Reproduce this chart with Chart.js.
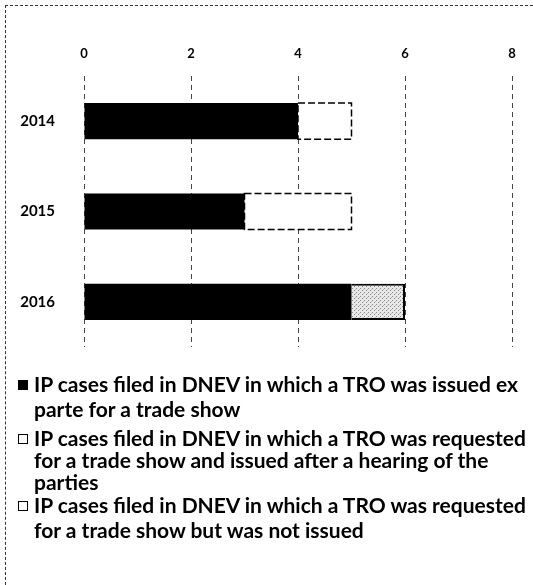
<!DOCTYPE html>
<html>
<head>
<meta charset="utf-8">
<script src="https://cdn.jsdelivr.net/npm/chart.js@4/dist/chart.umd.min.js"></script>
<style>
  body { margin: 0; background: #fff; }
  #wrap { position: relative; width: 533px; height: 585px; box-sizing: border-box; border-top: 1px dashed #333; border-left: 1px dashed #333; margin: 5px 0 0 5px; }
  #chartBox { position: absolute; left: -6px; top: -6px; width: 533px; height: 377px; }
  #legend { position: absolute; left: 0; top: 0; }
  .item { position: absolute; left: 28px; width: 494px; font: bold 21px Lato, sans-serif; line-height: 25px; color: #000; }
  .box { position: absolute; left: -16px; top: 8px; width: 8px; height: 8px; border: 1px solid #000; box-sizing: content-box; }
</style>
</head>
<body>
<div id="wrap">
  <div id="chartBox"><canvas id="chart"></canvas></div>
  <div id="legend"></div>
</div>
<script>
let years = ["2014", "2015", "2016"];
let exParte = [4, 3, 5];
let afterHearing = [1, 2, 0];
let notIssued = [0, 0, 1];
let xTicks = [0, 2, 4, 6, 8];
let seriesNames = [
  "IP cases filed in DNEV in which a TRO was issued ex parte for a trade show",
  "IP cases filed in DNEV in which a TRO was requested for a trade show and issued after a hearing of the parties",
  "IP cases filed in DNEV in which a TRO was requested for a trade show but was not issued"
];

// stipple pattern for the grey segment
let pc = document.createElement("canvas");
pc.width = 4; pc.height = 4;
let p = pc.getContext("2d");
p.fillStyle = "#e8e8e8";
p.fillRect(0, 0, 4, 4);
p.fillStyle = "#888";
p.fillRect(0, 0, 1, 1);
p.fillRect(2, 2, 1, 1);
p.fillStyle = "#bbb";
p.fillRect(3, 1, 1, 1);
let stipple = p.createPattern(pc, "repeat");

// dashed outline on the white segments
let dashedOutline = {
  id: "dashedOutline",
  afterDatasetsDraw(chart) {
    let meta = chart.getDatasetMeta(1);
    let c = chart.ctx;
    c.save();
    c.setLineDash([7, 3]);
    c.strokeStyle = "#000";
    c.lineWidth = 1.5;
    meta.data.forEach(function (bar, i) {
      if (!afterHearing[i]) return;
      let h = bar.height;
      c.strokeRect(bar.base, bar.y - h / 2, bar.x - bar.base, h);
    });
    c.restore();
  }
};

let ctx = document.getElementById("chart").getContext("2d");
let chart = new Chart(ctx, {
  type: "bar",
  data: {
    labels: years,
    datasets: [
      { label: seriesNames[0], data: exParte, backgroundColor: "#000", borderWidth: 0 },
      { label: seriesNames[1], data: afterHearing, backgroundColor: "#fff", borderWidth: 0 },
      { label: seriesNames[2], data: notIssued, backgroundColor: stipple, borderColor: "#000", borderWidth: 2 }
    ]
  },
  options: {
    indexAxis: "y",
    responsive: true,
    maintainAspectRatio: false,
    animation: false,
    layout: { padding: { left: 0, right: 21, top: 0, bottom: 0 } },
    datasets: { bar: { barPercentage: 0.8, categoryPercentage: 0.5 } },
    plugins: { legend: { display: false }, tooltip: { enabled: false } },
    scales: {
      x: {
        position: "top",
        stacked: true,
        min: 0,
        max: 8,
        afterBuildTicks(scale) { scale.ticks = xTicks.map(v => ({ value: v })); },
        afterFit(scale) { scale.height = 76; },
        ticks: { color: "#000", font: { family: "Lato, sans-serif", weight: "bold", size: 13 }, padding: 14 },
        grid: { color: "#444", lineWidth: 1, drawTicks: false },
        border: { display: false }
      },
      y: {
        stacked: true,
        afterFit(scale) { scale.width = 84; },
        ticks: { color: "#000", font: { family: "Lato, sans-serif", weight: "bold", size: 15 }, padding: 21 },
        grid: { display: false },
        border: { display: false }
      }
    }
  },
  plugins: [dashedOutline]
});

// dashed vertical gridlines
chart.options.scales.x.grid.borderDash = [5, 4];
chart.options.scales.x.border.dash = [5, 4];
chart.update();

// HTML legend with wrapped text
let legend = document.getElementById("legend");
let tops = [365, 421, 486];
let lineHeights = [25, 22, 25];
let boxStyles = ["background:#000", "background:#fff", "background:#fff"];
seriesNames.forEach(function (name, i) {
  let item = document.createElement("div");
  item.className = "item";
  item.style.top = tops[i] + "px";
  item.style.lineHeight = lineHeights[i] + "px";
  item.innerHTML = '<span class="box" style="' + boxStyles[i] + ';top:' + (lineHeights[i] / 2 - 4) + 'px"></span>' + name;
  legend.appendChild(item);
});
</script>
</body>
</html>
